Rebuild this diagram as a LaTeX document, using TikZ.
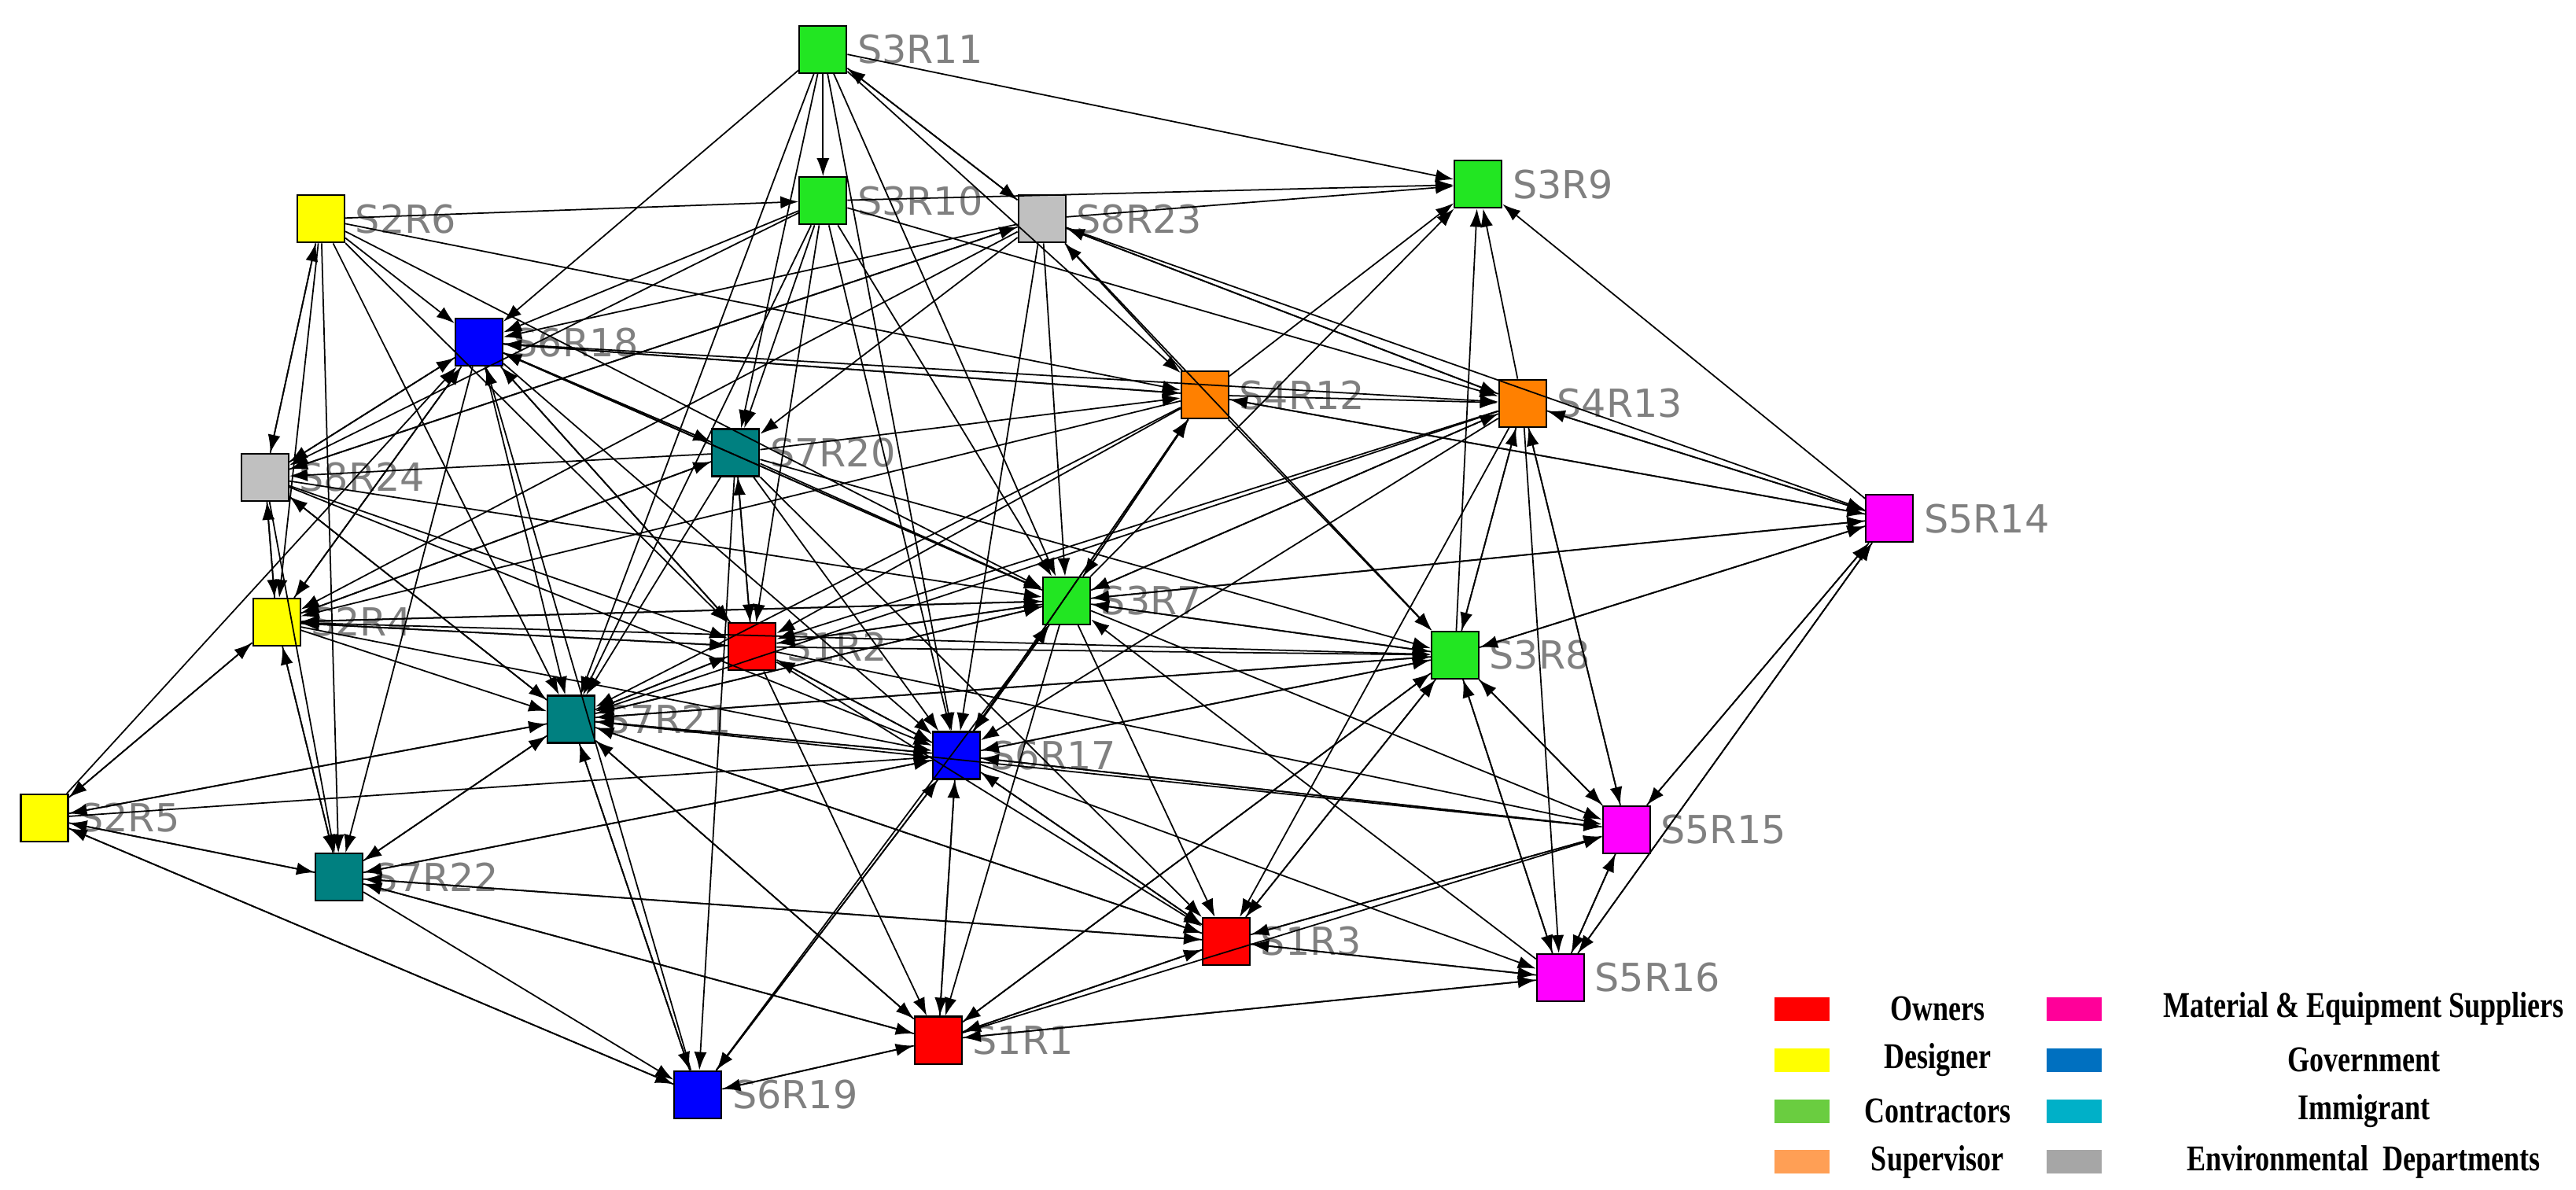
\documentclass[tikz,border=0pt]{standalone}
\usepackage{fontspec}
\usepackage{graphicx}
\setmainfont{Liberation Serif}
\newfontfamily\lblfont{DejaVu Sans}
\usetikzlibrary{arrows.meta}
\definecolor{cOwn}{HTML}{FF0000}
\definecolor{cDes}{HTML}{FFFF00}
\definecolor{cCon}{HTML}{22E622}
\definecolor{cSup}{HTML}{FF8000}
\definecolor{cMat}{HTML}{FF00FF}
\definecolor{cGov}{HTML}{0000FF}
\definecolor{cImm}{HTML}{008080}
\definecolor{cEnv}{HTML}{C0C0C0}
\definecolor{lOwn}{HTML}{FF0000}
\definecolor{lDes}{HTML}{FFFF00}
\definecolor{lCon}{HTML}{6ACD40}
\definecolor{lSup}{HTML}{FF9F55}
\definecolor{lMat}{HTML}{FF0099}
\definecolor{lGov}{HTML}{0070C0}
\definecolor{lImm}{HTML}{00B0C8}
\definecolor{lEnv}{HTML}{A6A6A6}
\begin{document}
\begin{tikzpicture}[x=0.02092cm, y=-0.02092cm,
          actor/.style = {shape=rectangle, draw, line width=0.6pt,
            minimum size=0.6cm, inner sep=0pt},
          tag/.style = {text=gray, font=\lblfont\fontsize{14}{16}\selectfont,
            inner sep=0pt, anchor=west, xshift=0.12cm},
          link/.style = {-{Latex[length=2.3mm,width=1.6mm]}, line width=0.5pt},
          key/.style = {fill=#1, minimum width=0.7cm, minimum height=0.3cm, inner sep=0pt},
          keytext/.style = {font=\bfseries\fontsize{12.5}{14}\selectfont, inner sep=0pt}]
  \useasboundingbox (0,0) rectangle (1565,723);
  % actors
  \foreach \n/\lab/\col/\x/\y in {
      s3r11/S3R11/cCon/500/30, s3r9/S3R9/cCon/898/112, s3r10/S3R10/cCon/500/122,
      s8r23/S8R23/cEnv/633/133, s2r6/S2R6/cDes/195/133, s6r18/S6R18/cGov/291/208,
      s4r12/S4R12/cSup/732/240, s4r13/S4R13/cSup/925/245, s7r20/S7R20/cImm/447/275,
      s8r24/S8R24/cEnv/161/290, s5r14/S5R14/cMat/1148/315, s3r7/S3R7/cCon/648/365,
      s2r4/S2R4/cDes/168/378, s1r2/S1R2/cOwn/457/393, s3r8/S3R8/cCon/884/398,
      s7r21/S7R21/cImm/347/437, s6r17/S6R17/cGov/581/459, s2r5/S2R5/cDes/27/497,
      s5r15/S5R15/cMat/988/504, s7r22/S7R22/cImm/206/533, s1r3/S1R3/cOwn/745/572,
      s5r16/S5R16/cMat/948/594, s1r1/S1R1/cOwn/570/632, s6r19/S6R19/cGov/424/665}
  {
    \node[actor, fill=\col] (\n) at (\x,\y) {};
    \node[tag] (\n-t) at (\n.east) {\lab};
  }
  % links
  \foreach \s/\ts in {
      s3r11/{s3r9,s3r10,s8r23,s7r20,s3r7,s6r17,s6r18,s4r12,s7r21},
      s3r10/{s3r9,s6r18,s7r20,s3r7,s6r17,s1r2,s4r13,s8r24,s7r21},
      s8r23/{s3r9,s4r13,s3r7,s6r17,s7r20,s8r24,s6r18,s2r4,s3r8,s5r14,s3r11},
      s2r6/{s8r24,s2r4,s7r22,s7r21,s4r12,s3r7,s6r18,s1r2,s3r10},
      s6r18/{s4r12,s4r13,s7r20,s3r7,s1r2,s7r21,s7r22,s2r4,s8r24,s6r17},
      s4r12/{s4r13,s3r9,s8r23,s3r7,s3r8,s6r17,s7r21,s1r2,s6r18,s5r14,s2r4},
      s4r13/{s3r9,s8r23,s3r7,s3r8,s5r14,s5r15,s1r3,s6r17,s1r2,s7r21,s5r16},
      s7r20/{s4r12,s3r7,s6r17,s1r2,s7r21,s8r24,s2r4,s6r18,s3r8,s6r19,s1r3},
      s8r24/{s2r4,s2r6,s3r7,s1r2,s6r17,s6r18,s7r22,s7r21,s8r23},
      s5r14/{s3r9,s3r7,s4r13,s4r12,s5r15,s5r16,s3r8},
      s3r7/{s3r8,s5r14,s4r12,s4r13,s3r9,s1r2,s6r17,s5r15,s1r3,s1r1,s7r21,s2r4,s6r18},
      s2r4/{s2r5,s7r22,s1r2,s3r7,s6r18,s7r20,s8r24,s6r17,s3r8,s7r21},
      s1r2/{s3r7,s3r8,s6r17,s7r21,s1r1,s1r3,s6r18,s7r20,s2r4,s5r15},
      s3r8/{s3r9,s4r13,s5r15,s5r16,s6r17,s1r3,s1r1,s7r21,s3r7,s5r14},
      s7r21/{s3r7,s6r17,s1r2,s3r8,s2r5,s7r22,s8r24,s1r1,s1r3,s6r19,s5r15},
      s6r17/{s3r7,s4r12,s3r8,s5r15,s1r3,s1r1,s6r19,s7r22,s1r2,s7r21,s5r16},
      s2r5/{s2r4,s7r22,s6r19,s7r21,s6r17,s6r18},
      s5r15/{s5r14,s3r8,s5r16,s1r3,s6r17,s4r13},
      s7r22/{s2r5,s6r19,s1r1,s1r3,s7r21,s6r17,s2r4},
      s1r3/{s5r15,s5r16,s3r8,s1r1,s7r22,s6r17,s7r21},
      s5r16/{s5r15,s5r14,s1r1,s3r7,s3r8,s1r3},
      s1r1/{s5r16,s1r3,s6r17,s3r8,s7r21,s7r22,s6r19,s5r15},
      s6r19/{s6r17,s1r1,s7r21,s2r5,s3r7,s6r18}}
    \foreach \t in \ts
      \draw[link] (\s) -- (\t);
  % legend
  \foreach \n/\col/\txt/\y in {kOwn/lOwn/Owners/613, kDes/lDes/Designer/644,
      kCon/lCon/Contractors/675, kSup/lSup/Supervisor/706}
  {
    \node[key=\col] (\n) at (1095,\y) {};
    \node[keytext] (\n-t) at (1177,\y) {\scalebox{0.82}[1.05]{\txt}};
  }
  \foreach \n/\col/\txt/\y in {kMat/lMat/Material \& Equipment Suppliers/613,
      kGov/lGov/Government/644, kImm/lImm/Immigrant/675,
      kEnv/lEnv/Environmental\ \ Departments/706}
  {
    \node[key=\col] (\n) at (1260,\y) {};
    \node[keytext] (\n-t) at (1436,\y) {\scalebox{0.82}[1.05]{\txt}};
  }
\end{tikzpicture}
\end{document}
